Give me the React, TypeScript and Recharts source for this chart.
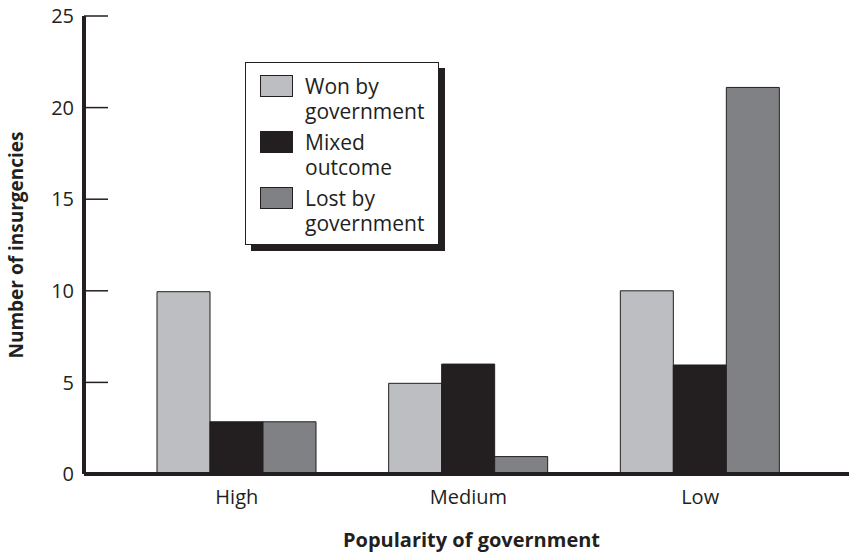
import { Bar, BarChart, Legend, XAxis, YAxis } from "recharts";

// Values
const categories = ["High", "Medium", "Low"];
const wonByGovernment = [9.95, 4.95, 10];
const mixedOutcome = [2.85, 6, 5.95];
const lostByGovernment = [2.85, 0.95, 21.1];
const seriesNames = ["Won by government", "Mixed outcome", "Lost by government"];
const yTicks = [0, 5, 10, 15, 20, 25];

const data = categories.map((name, i) => ({
  name,
  won: wonByGovernment[i],
  mixed: mixedOutcome[i],
  lost: lostByGovernment[i],
}));

const ink = "#231f20";
const font = "'Open Sans', 'Noto Sans', sans-serif";

const YTick = (props: any) => {
  const { x, y, payload } = props;
  const axisX = x + 10;
  return (
    <g>
      <line x1={axisX} x2={axisX + 24} y1={y} y2={y} stroke={ink} strokeWidth={1.5} />
      <text x={x} y={y} dy="0.36em" textAnchor="end" fill={ink} fontSize={20} fontFamily={font}>
        {payload.value}
      </text>
    </g>
  );
};

const LegendBox = (props: any) => {
  // keep the legend in series order (won, mixed, lost)
  const items = [...(props.payload || [])].sort(
    (a: any, b: any) => seriesNames.indexOf(a.value) - seriesNames.indexOf(b.value)
  );
  return (
    <div
      style={{
        boxSizing: "border-box",
        width: 194,
        height: 183,
        border: `1px solid ${ink}`,
        boxShadow: `6px 6px 0 ${ink}`,
        background: "#fff",
        padding: "11px 8px 8px 14px",
        fontFamily: font,
        fontSize: 21,
        lineHeight: "25px",
        color: ink,
      }}
    >
      {items.map((item: any, i: number) => (
        <div key={item.value} style={{ display: "flex", marginTop: i === 0 ? 0 : 6 }}>
          <div
            style={{
              boxSizing: "border-box",
              flex: "0 0 33px",
              height: 22,
              marginTop: 1,
              marginRight: 12,
              background: item.color,
              border: `1px solid ${ink}`,
            }}
          />
          <div style={{ width: 128 }}>{item.value}</div>
        </div>
      ))}
    </div>
  );
};

export default function App() {
  return (
    <div style={{ position: "absolute", left: 0, top: 0 }}>
      <BarChart
        width={849}
        height={553}
        data={data}
        margin={{ top: 16, right: 0, bottom: 0, left: 0 }}
        barGap={0}
        barSize={53}
      >
        <XAxis
          xAxisId="top"
          orientation="top"
          dataKey="name"
          height={0}
          tick={false}
          tickLine={false}
          axisLine={{ stroke: ink, strokeWidth: 1.5 }}
          padding={{ left: 37, right: 33 }}
        />
        <XAxis
          dataKey="name"
          height={79}
          tickLine={false}
          tickSize={0}
          tickMargin={16}
          axisLine={{ stroke: ink, strokeWidth: 4 }}
          padding={{ left: 37, right: 33 }}
          tick={{ fill: ink, fontSize: 20, fontFamily: font }}
          label={{
            content: (p: any) => {
              const vb = p.viewBox;
              return (
                <text
                  x={vb.x + vb.width / 2 + 5}
                  y={547}
                  textAnchor="middle"
                  fill={ink}
                  fontSize={20}
                  fontWeight="bold"
                  fontFamily={font}
                >
                  Popularity of government
                </text>
              );
            },
          }}
        />
        <YAxis
          width={84}
          domain={[0, 25]}
          ticks={yTicks}
          interval={0}
          tickLine={false}
          tickSize={0}
          tickMargin={10}
          axisLine={{ stroke: ink, strokeWidth: 4 }}
          tick={<YTick />}
          label={{
            content: (p: any) => {
              const vb = p.viewBox;
              const cy = vb.y + vb.height / 2;
              return (
                <text
                  x={23}
                  y={cy}
                  transform={`rotate(-90, 23, ${cy})`}
                  textAnchor="middle"
                  fill={ink}
                  fontSize={19}
                  fontWeight="bold"
                  fontFamily={font}
                >
                  Number of insurgencies
                </text>
              );
            },
          }}
        />
        <Legend
          layout="vertical"
          align="center"
          verticalAlign="middle"
          content={<LegendBox />}
          wrapperStyle={{ left: 245, top: 62, width: 200, height: 190 }}
        />
        <Bar dataKey="won" name={seriesNames[0]} fill="#bcbec1" stroke={ink} strokeWidth={1} isAnimationActive={false} />
        <Bar dataKey="mixed" name={seriesNames[1]} fill="#231f20" stroke={ink} strokeWidth={1} isAnimationActive={false} />
        <Bar dataKey="lost" name={seriesNames[2]} fill="#808184" stroke={ink} strokeWidth={1} isAnimationActive={false} />
      </BarChart>
    </div>
  );
}
